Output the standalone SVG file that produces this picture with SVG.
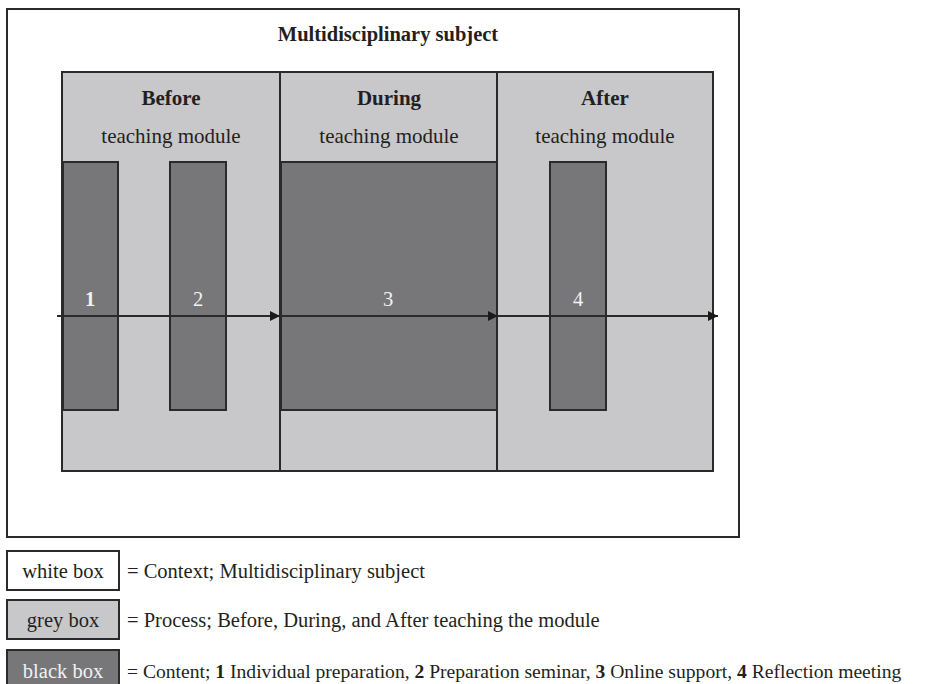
<svg xmlns="http://www.w3.org/2000/svg" width="947" height="684" viewBox="0 0 947 684">
<defs>
<style>
text{font-family:"Liberation Serif","Times New Roman",serif;font-size:20.5px;fill:#231f20}
.b{font-weight:bold}
.m{text-anchor:middle}
.t{font-size:21px}
.s{font-size:19.6px}
.w{fill:#f2f2f2}
.ctx{fill:#fff;stroke:#2a2a2a;stroke-width:2}
.proc{fill:#c8c8ca;stroke:#2a2a2a;stroke-width:2}
.cont{fill:#77777a;stroke:#2a2a2a;stroke-width:2}
.ar{stroke:#2a2a2a;stroke-width:2;fill:none}
</style>
<marker id="ah" viewBox="0 0 10 10" refX="10" refY="5" markerWidth="10" markerHeight="10" markerUnits="userSpaceOnUse" orient="auto">
<path d="M0,0 L10,5 L0,10 z" fill="#1a1a1a"/>
</marker>
</defs>
<g id="context">
<rect class="ctx" x="7" y="9" width="732" height="528"/>
<text class="b m" x="388" y="41">Multidisciplinary subject</text>
</g>
<g id="before">
<rect class="proc" x="62" y="72" width="218" height="399"/>
<text class="b m t" x="171" y="105">Before</text>
<text class="m t" x="171" y="143">teaching module</text>
</g>
<g id="during">
<rect class="proc" x="280" y="72" width="217" height="399"/>
<text class="b m t" x="389" y="105">During</text>
<text class="m t" x="389" y="143">teaching module</text>
</g>
<g id="after">
<rect class="proc" x="497" y="72" width="216" height="399"/>
<text class="b m t" x="605" y="105">After</text>
<text class="m t" x="605" y="143">teaching module</text>
</g>
<g id="c1">
<rect class="cont" x="63" y="162" width="55" height="248"/>
<text class="b m w" x="90" y="306">1</text>
</g>
<g id="c2">
<rect class="cont" x="170" y="162" width="56" height="248"/>
<text class="m w" x="198" y="306">2</text>
</g>
<g id="c3">
<rect class="cont" x="281" y="162" width="216" height="248"/>
<text class="m w" x="388" y="306">3</text>
</g>
<g id="c4">
<rect class="cont" x="550" y="162" width="56" height="248"/>
<text class="m w" x="578" y="306">4</text>
</g>
<g id="connectors">
<line class="ar" x1="57" y1="316" x2="280" y2="316" marker-end="url(#ah)"/>
<line class="ar" x1="280" y1="316" x2="498" y2="316" marker-end="url(#ah)"/>
<line class="ar" x1="498" y1="316" x2="718" y2="316" marker-end="url(#ah)"/>
</g>
<g id="legend-white">
<rect class="ctx" x="7" y="551" width="112" height="39"/>
<text class="m" x="63" y="578">white box</text>
<text x="127" y="578">= Context; Multidisciplinary subject</text>
</g>
<g id="legend-grey">
<rect class="proc" x="7" y="600" width="112" height="39"/>
<text class="m" x="63" y="627">grey box</text>
<text x="127" y="627">= Process; Before, During, and After teaching the module</text>
</g>
<g id="legend-black">
<rect class="cont" x="7" y="650" width="112" height="40"/>
<text class="m w" x="63" y="678">black box</text>
<text class="s" x="127" y="678">= Content; <tspan class="b">1</tspan> Individual preparation, <tspan class="b">2</tspan> Preparation seminar, <tspan class="b">3</tspan> Online support, <tspan class="b">4</tspan> Reflection meeting</text>
</g>
</svg>
